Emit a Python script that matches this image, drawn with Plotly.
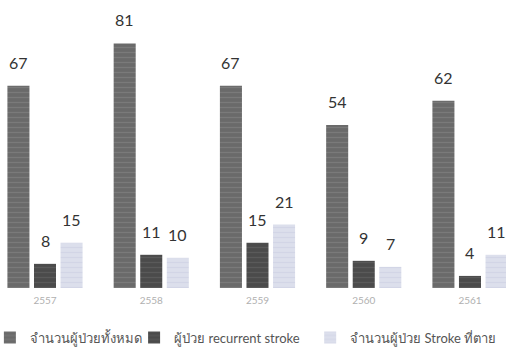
import plotly.graph_objects as go

# Stroke patients by fiscal year (Thai calendar)
years = ["2557", "2558", "2559", "2560", "2561"]
total_patients = [67, 81, 67, 54, 62]
recurrent_stroke = [8, 11, 15, 9, 4]
stroke_deaths = [15, 10, 21, 7, 11]

series_names = [
    "จำนวนผู้ป่วยทั้งหมด",
    "ผู้ป่วย recurrent stroke",
    "จำนวนผู้ป่วย Stroke ที่ตาย",
]
series_values = [total_patients, recurrent_stroke, stroke_deaths]
series_colors = ["#6a6a6a", "#4b4b4b", "#dcdfec"]
pattern_colors = ["#8a8a8a", "#6a6a6a", "#c8cce0"]
legend_ids = ["legend", "legend2", "legend3"]
legend_x = [-0.02, 0.265, 0.613]

BARGAP = 0.25
BARGROUPGAP = 0.17
slot = (1 - BARGAP) / len(series_values)

fig = go.Figure()
for name, vals, col, pcol, lg in zip(series_names, series_values, series_colors,
                                     pattern_colors, legend_ids):
    fig.add_trace(go.Bar(
        x=years, y=vals, name=name, legend=lg,
        marker=dict(color=col, line=dict(width=0),
                    pattern=dict(shape="-", fgcolor=pcol, size=5, solidity=0.25)),
    ))

# value labels above each bar
annotations = []
for k, vals in enumerate(series_values):
    for i, v in enumerate(vals):
        annotations.append(dict(
            x=i + (k - 1) * slot, y=v, xref="x", yref="y",
            text=str(v), showarrow=False, yanchor="bottom", yshift=12,
            font=dict(family="Lato, Open Sans, sans-serif", size=16, color="#333333"),
        ))

legend_font = dict(family="Lato, Noto Sans, sans-serif", size=13, color="#555555")
legend_common = dict(orientation="h", xanchor="left", y=-0.172, yanchor="middle",
                     font=legend_font, itemwidth=30, bgcolor="rgba(0,0,0,0)")

fig.update_layout(
    width=506, height=350,
    margin=dict(l=0, r=0, t=0, b=62, autoexpand=False),
    paper_bgcolor="white", plot_bgcolor="white",
    barmode="group", bargap=BARGAP, bargroupgap=BARGROUPGAP,
    annotations=annotations,
    showlegend=True,
    legend=dict(x=legend_x[0], **legend_common),
    legend2=dict(x=legend_x[1], **legend_common),
    legend3=dict(x=legend_x[2], **legend_common),
    xaxis=dict(type="category", range=[-0.4235, 4.339], showgrid=False, showline=False,
               ticks="", ticklabelstandoff=5,
               tickfont=dict(family="Lato, sans-serif", size=10, color="#b0b0b0")),
    yaxis=dict(range=[0, 95.4], visible=False, showgrid=False),
)

fig.write_html("out.html")
